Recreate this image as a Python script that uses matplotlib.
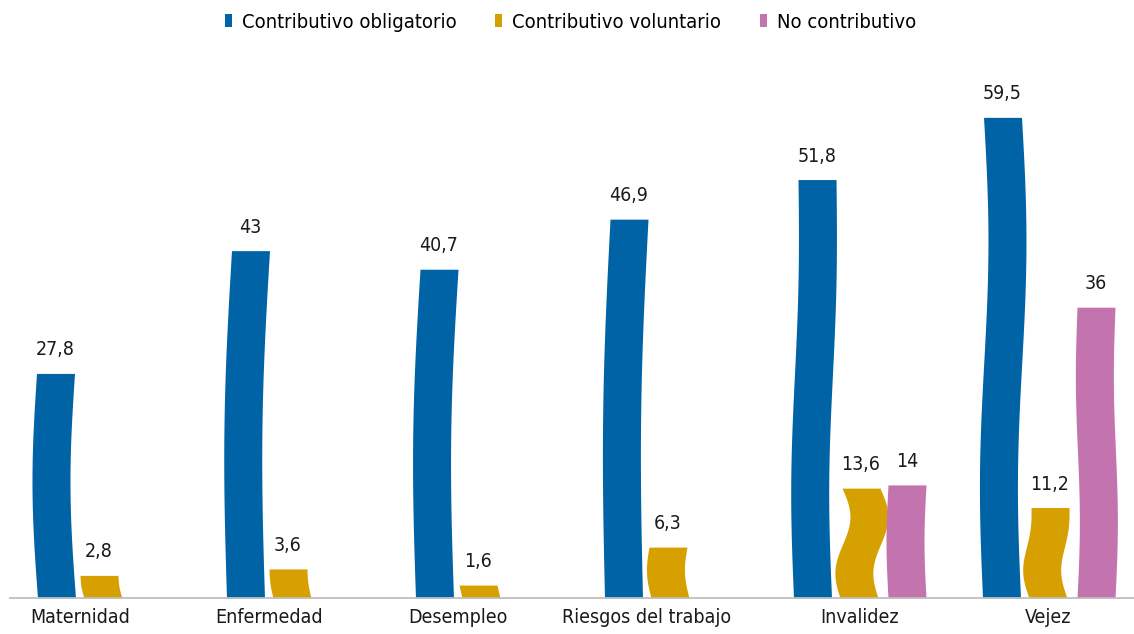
import numpy as np
import matplotlib
matplotlib.use('Agg')
import matplotlib.pyplot as plt
from matplotlib.patches import Patch

plt.rcParams['font.family'] = ['DejaVu Sans']
plt.rcParams['font.stretch'] = 'condensed'

# Data
categories = ['Maternidad', 'Enfermedad', 'Desempleo', 'Riesgos del trabajo', 'Invalidez', 'Vejez']
obligatorio = [27.8, 43, 40.7, 46.9, 51.8, 59.5]
voluntario = [2.8, 3.6, 1.6, 6.3, 13.6, 11.2]
no_contributivo = [None, None, None, None, 14, 36]
series_names = ['Contributivo obligatorio', 'Contributivo voluntario', 'No contributivo']

# Style
colors = ['#0063a5', '#d6a100', '#c373ad']
offsets = [-0.246, 0.0, 0.254]          # group offsets (category units)
bar_px = 38                              # bar width in pixels
# wave shape of every bar, in pixels: a*sin(pi t) + b*sin(2 pi t) + d*sin(3 pi t) + c*t
waves = [
    [(-5, 0, 0, -1), (-5, 0, 0, 5), (-5, 0, 0, 4.5), (-4.5, 0, 0, 5.5), (-2, -2.5, 0, 4.5), (1, -4, 0, 1)],
    [(-1, 0, 0, -4), (-1, 0, 0, -4), (0, 0, 0, -3), (-3.5, 0, 0, -2), (2, -7, 0, 2), (-5, -3, 0, 2)],
    [None, None, None, None, (-2, 0, 0, 0), (0.5, 2, 0, 0)],
]

W, H = 1134, 634
fig = plt.figure(figsize=(W / 100, H / 100), dpi=100)
ax_left, ax_bottom, ax_top = 10, 598, 60
ax = fig.add_axes([ax_left / W, (H - ax_bottom) / H, (W - ax_left) / W, (ax_bottom - ax_top) / H])

xmin, xmax = -0.492, 5.455
ax.set_xlim(xmin, xmax)
ax.set_ylim(0, 66.6)
px = (xmax - xmin) / (W - ax_left)      # one pixel in category units
bw = bar_px * px


def wave(t, p):
    a, b, d, c = p
    return a * np.sin(np.pi * t) + b * np.sin(2 * np.pi * t) + d * np.sin(3 * np.pi * t) + c * t


def fmt(v):
    return f'{v:g}'.replace('.', ',')


all_series = [obligatorio, voluntario, no_contributivo]
centers = []
for i in range(len(categories)):
    xs = []
    for s, values in enumerate(all_series):
        v = values[i]
        if v is None:
            continue
        x0 = i + offsets[s]
        xs.append(x0)
        t = np.linspace(0, 1, 120)
        dx = wave(t, waves[s][i]) * px
        y = t * v
        ax.fill_betweenx(y, x0 - bw / 2 + dx, x0 + bw / 2 + dx, color=colors[s], linewidth=0)
        ax.annotate(fmt(v), (x0 + dx[-1], v), xytext=(0, 14), textcoords='offset pixels',
                    ha='center', va='bottom', fontsize=14, color='#1a1a1a')
    centers.append(np.mean(xs))

ax.set_xticks(centers)
ax.set_xticklabels(categories, fontsize=14, color='#1a1a1a')
ax.tick_params(axis='x', length=0, pad=7)
ax.set_yticks([])
for side in ['left', 'right', 'top']:
    ax.spines[side].set_visible(False)
ax.spines['bottom'].set_color('#bfbfbf')
ax.spines['bottom'].set_linewidth(1.3)

handles = [Patch(facecolor=c, edgecolor='none') for c in colors]
fig.legend(handles, series_names, loc='center', bbox_to_anchor=(0.503, 0.965), ncol=3,
           frameon=False, fontsize=14.5, handlelength=0.36, handleheight=0.55,
           handletextpad=0.5, columnspacing=1.9)

fig.savefig('out.png', dpi=100)
